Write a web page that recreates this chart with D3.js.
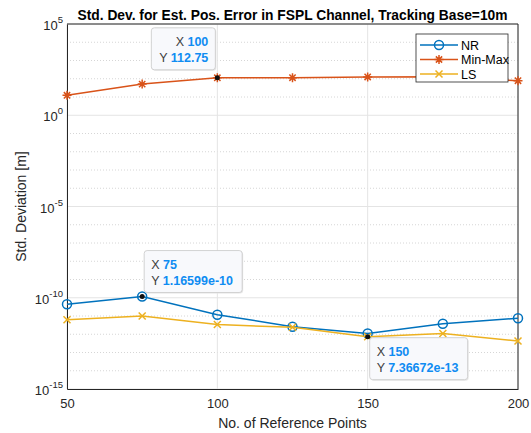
<!DOCTYPE html>
<html>
<head>
<meta charset="utf-8">
<script src="https://cdn.jsdelivr.net/npm/d3@7"></script>
<style>
  body { margin: 0; background: #fff; }
  svg { font-family: "Liberation Sans", Arial, sans-serif; }
</style>
</head>
<body>
<div id="chart"></div>
<script>
// 数据
const refPoints = [50, 75, 100, 125, 150, 175, 200];
const nrValues = [4.4e-11, 1.16599e-10, 1.18e-11, 2.6e-12, 1.1e-12, 3.8e-12, 7.5e-12];
const minMaxValues = [12.4, 51, 112.75, 114, 125, 128, 78];
const lsValues = [6.3e-12, 1.0e-11, 3.4e-12, 2.4e-12, 7.36672e-13, 1.1e-12, 4.3e-13];
const xTicks = [50, 100, 150, 200];
const yExponents = [5, 0, -5, -10, -15];
const seriesNames = ["NR", "Min-Max", "LS"];
// 数据提示
const dataTips = [
    { series: 1, index: 2, xText: "100", yText: "112.75" },
    { series: 0, index: 1, xText: "75", yText: "1.16599e-10" },
    { series: 2, index: 4, xText: "150", yText: "7.36672e-13" }
];

function drawChart() {
    const width = 531;
    const height = 433;
    const margin = { top: 24, right: 13, bottom: 44, left: 67 };

    d3.select("#chart").selectAll("*").remove();

    const svg = d3.select("#chart")
        .append("svg")
        .attr("width", width)
        .attr("height", height);

    const x = d3.scaleLinear()
        .domain([50, 200])
        .range([margin.left, width - margin.right]);

    const y = d3.scaleLog()
        .domain([1e-15, 1e5])
        .range([height - margin.bottom, margin.top]);

    const colors = ["#0072BD", "#D95319", "#EDB120"];
    const series = [nrValues, minMaxValues, lsValues];

    // 次网格线（每个数量级）
    const minor = d3.range(-15, 6).filter(e => e % 5 !== 0);
    svg.append("g").selectAll("line")
        .data(minor)
        .enter()
        .append("line")
        .attr("x1", margin.left)
        .attr("x2", width - margin.right)
        .attr("y1", e => y(Math.pow(10, e)))
        .attr("y2", e => y(Math.pow(10, e)))
        .attr("stroke", "#d6d6d6")
        .attr("stroke-dasharray", "1,2");

    // 主网格线
    svg.append("g").selectAll("line")
        .data(yExponents)
        .enter()
        .append("line")
        .attr("x1", margin.left)
        .attr("x2", width - margin.right)
        .attr("y1", e => y(Math.pow(10, e)))
        .attr("y2", e => y(Math.pow(10, e)))
        .attr("stroke", "#e4e4e4");

    svg.append("g").selectAll("line")
        .data(xTicks)
        .enter()
        .append("line")
        .attr("x1", d => x(d))
        .attr("x2", d => x(d))
        .attr("y1", margin.top)
        .attr("y2", height - margin.bottom)
        .attr("stroke", "#e4e4e4");

    // 坐标轴
    const xAxis = svg.append("g")
        .attr("transform", `translate(0,${height - margin.bottom})`)
        .call(d3.axisBottom(x).tickValues(xTicks).tickSize(0).tickPadding(10));
    xAxis.select(".domain").attr("stroke", "#262626");
    xAxis.selectAll("text").attr("font-size", "13px").attr("fill", "#262626")
        .attr("font-family", "Liberation Sans, Arial, sans-serif");

    const yAxis = svg.append("g")
        .attr("transform", `translate(${margin.left},0)`)
        .call(d3.axisLeft(y).tickValues(yExponents.map(e => Math.pow(10, e))).tickSize(0).tickFormat(""));
    yAxis.select(".domain").attr("stroke", "#262626");

    // 刻度（10的幂）
    yExponents.forEach(e => {
        const t = svg.append("text")
            .attr("x", margin.left - 4)
            .attr("y", y(Math.pow(10, e)) + 6)
            .attr("text-anchor", "end")
            .attr("font-size", "13px")
            .attr("fill", "#262626");
        t.append("tspan").text("10");
        t.append("tspan").attr("dy", -7).attr("font-size", "9.5px").text(e);
    });

    // 上、右边框
    svg.append("line")
        .attr("x1", margin.left).attr("x2", width - margin.right)
        .attr("y1", margin.top).attr("y2", margin.top)
        .attr("stroke", "#262626");
    svg.append("line")
        .attr("x1", width - margin.right).attr("x2", width - margin.right)
        .attr("y1", margin.top).attr("y2", height - margin.bottom)
        .attr("stroke", "#262626");

    // 标题和轴标签
    svg.append("text")
        .attr("x", (margin.left + width - margin.right) / 2)
        .attr("y", 20)
        .attr("text-anchor", "middle")
        .attr("font-size", "13.8px")
        .attr("font-weight", "bold")
        .attr("fill", "#000")
        .text("Std. Dev. for Est. Pos. Error in FSPL Channel, Tracking Base=10m");

    svg.append("text")
        .attr("x", (margin.left + width - margin.right) / 2)
        .attr("y", 428)
        .attr("text-anchor", "middle")
        .attr("font-size", "14px")
        .attr("fill", "#262626")
        .text("No. of Reference Points");

    svg.append("text")
        .attr("transform", `translate(26,${(margin.top + height - margin.bottom) / 2}) rotate(-90)`)
        .attr("text-anchor", "middle")
        .attr("font-size", "14px")
        .attr("fill", "#262626")
        .text("Std. Deviation [m]");

    // 折线
    const line = d3.line()
        .x((d, i) => x(refPoints[i]))
        .y(d => y(d));

    series.forEach((values, s) => {
        svg.append("path")
            .datum(values)
            .attr("d", line)
            .attr("fill", "none")
            .attr("stroke", colors[s])
            .attr("stroke-width", 1.5);

        const g = svg.append("g");
        values.forEach((v, i) => {
            drawMarker(g, s, x(refPoints[i]), y(v), colors[s]);
        });
    });

    function drawMarker(g, s, cx, cy, color) {
        if (s === 0) {
            g.append("circle")
                .attr("cx", cx).attr("cy", cy).attr("r", 4.5)
                .attr("fill", "none")
                .attr("stroke", color)
                .attr("stroke-width", 1.5);
        } else if (s === 1) {
            const r = 4.5;
            const p = `M${cx - r},${cy}L${cx + r},${cy}M${cx},${cy - r}L${cx},${cy + r}` +
                `M${cx - r * 0.7},${cy - r * 0.7}L${cx + r * 0.7},${cy + r * 0.7}` +
                `M${cx - r * 0.7},${cy + r * 0.7}L${cx + r * 0.7},${cy - r * 0.7}`;
            g.append("path").attr("d", p).attr("stroke", color).attr("stroke-width", 1.5);
        } else {
            const r = 3.5;
            const p = `M${cx - r},${cy - r}L${cx + r},${cy + r}M${cx - r},${cy + r}L${cx + r},${cy - r}`;
            g.append("path").attr("d", p).attr("stroke", color).attr("stroke-width", 1.5);
        }
    }

    // 图例
    const legend = svg.append("g").attr("transform", "translate(416,34)");
    legend.append("rect")
        .attr("width", 92).attr("height", 48)
        .attr("fill", "#fff")
        .attr("stroke", "#262626")
        .attr("stroke-width", 0.8);
    seriesNames.forEach((name, i) => {
        const ly = 11 + i * 14.5;
        legend.append("line")
            .attr("x1", 4).attr("x2", 42)
            .attr("y1", ly).attr("y2", ly)
            .attr("stroke", colors[i]).attr("stroke-width", 1.5);
        drawMarker(legend, i, 23, ly, colors[i]);
        legend.append("text")
            .attr("x", 45).attr("y", ly + 4.5)
            .attr("font-size", "12.5px")
            .attr("fill", "#000")
            .text(name);
    });

    // 数据提示
    dataTips.forEach(tip => {
        const px = x(refPoints[tip.index]);
        const py = y(series[tip.series][tip.index]);
        const g = svg.append("g");

        let bx, by, bw, bh = 42, anchor, tx;
        if (tip.series === 1) {
            bw = 64; bx = px - 2 - bw; by = py - 8 - bh; anchor = "end"; tx = bx + bw - 7;
        } else if (tip.series === 0) {
            bw = 98; bx = px + 2; by = py - 4 - bh; anchor = "start"; tx = bx + 7;
        } else {
            bw = 98; bx = px + 2; by = py + 1; anchor = "start"; tx = bx + 7;
        }

        g.append("rect")
            .attr("x", bx + 1).attr("y", by + 1)
            .attr("width", bw).attr("height", bh)
            .attr("rx", 3)
            .attr("fill", "#e8e8e8");
        g.append("rect")
            .attr("x", bx).attr("y", by)
            .attr("width", bw).attr("height", bh)
            .attr("rx", 3)
            .attr("fill", "#f8f9fc")
            .attr("stroke", "#c8c8c8")
            .attr("stroke-width", 0.8);

        [["X", tip.xText], ["Y", tip.yText]].forEach((row, k) => {
            const t = g.append("text")
                .attr("x", tx)
                .attr("y", by + 18 + k * 16.5)
                .attr("text-anchor", anchor)
                .attr("font-size", "12.5px");
            t.append("tspan").attr("fill", "#404040").text(row[0] + " ");
            t.append("tspan").attr("fill", "#0f8cf2").attr("font-weight", "bold").text(row[1]);
        });

        g.append("circle")
            .attr("cx", px).attr("cy", py).attr("r", 2.5)
            .attr("fill", "#111");
    });
}

window.addEventListener('load', drawChart);
</script>
</body>
</html>
